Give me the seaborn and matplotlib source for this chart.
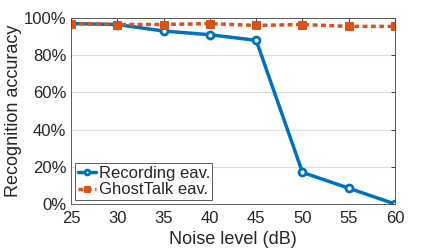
import matplotlib
matplotlib.use("Agg")
import matplotlib.pyplot as plt
import seaborn as sns
import pandas as pd
from matplotlib.ticker import PercentFormatter

noise = [25, 30, 35, 40, 45, 50, 55, 60]
recording = [97, 96.5, 93, 91, 88, 17, 8.5, 0]
ghosttalk = [97, 96.5, 96.5, 97, 96, 96.5, 95.5, 95.5]

sns.set_theme(style="white")
plt.rcParams['font.family'] = ['Liberation Sans', 'DejaVu Sans']

df = pd.DataFrame({"noise": noise * 2,
                   "acc": recording + ghosttalk,
                   "series": ["Recording eav."] * len(noise) + ["GhostTalk eav."] * len(noise)})

fig = plt.figure(figsize=(4.36, 2.5), dpi=100)
ax = fig.add_axes([0.163, 0.184, 0.743, 0.744])

blue = "#0072BD"
orange = "#D95319"
sns.lineplot(data=df[df.series == "Recording eav."], x="noise", y="acc", ax=ax,
             color=blue, lw=2.5, marker="o", markersize=5, markerfacecolor="white",
             markeredgecolor=blue, markeredgewidth=2, label="Recording eav.")
sns.lineplot(data=df[df.series == "GhostTalk eav."], x="noise", y="acc", ax=ax,
             color=orange, lw=2.5, dashes=(1.4, 1.0), marker="s", markersize=6,
             markerfacecolor=orange, markeredgecolor=orange, label="GhostTalk eav.")

ax.set_xlim(25, 60)
ax.set_ylim(0, 100)
ax.set_xticks(noise)
ax.set_yticks([0, 20, 40, 60, 80, 100])
ax.yaxis.set_major_formatter(PercentFormatter(decimals=0))
ax.grid(axis="y", color="#dddddd", lw=0.8)
ax.tick_params(direction="in", length=3, labelsize=12, colors="#262626", width=0.6,
               top=True, right=True)
ax.tick_params(axis="x", pad=5)
for s in ax.spines.values():
    s.set_color("#444444")
    s.set_linewidth(0.6)
ax.set_xlabel("Noise level (dB)", fontsize=13, color="#262626", labelpad=4)
ax.set_ylabel("Recognition accuracy", fontsize=13, color="#262626", labelpad=1)
leg = ax.legend(loc="lower left", fontsize=12, handlelength=1.1, handletextpad=0.15,
                borderpad=0.15, labelspacing=0.1, borderaxespad=0.25, fancybox=False,
                framealpha=1, edgecolor="#444444", markerscale=0.7)
leg.get_frame().set_linewidth(0.6)
fig.savefig("out.png", dpi=100)
